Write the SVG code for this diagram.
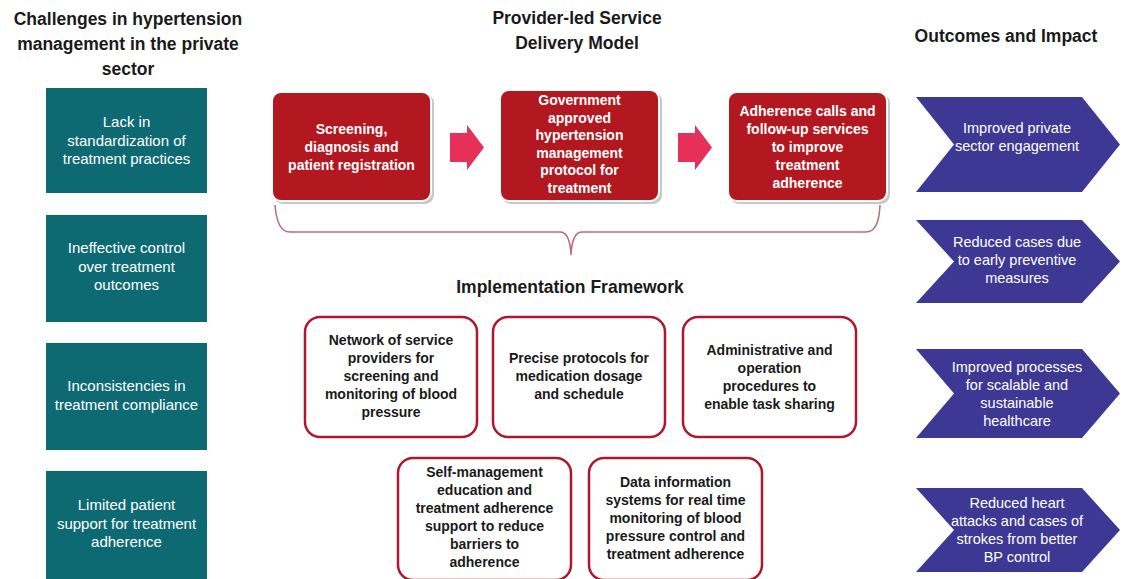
<svg xmlns="http://www.w3.org/2000/svg" width="1126" height="579" viewBox="0 0 1126 579">
<defs>
<style>
.title{font-family:"Liberation Sans",Arial,sans-serif;font-weight:bold;font-size:17.5px;fill:#1a1a1a;text-anchor:middle}
.teal{fill:#0e6a72}
.tt{font-family:"Liberation Sans",Arial,sans-serif;font-size:15px;fill:#ffffff;text-anchor:middle}
.red{fill:#b3171f;stroke:#ffffff;stroke-width:2}
.shadow{fill:#c8c8c8}
.rt{font-family:"Liberation Sans",Arial,sans-serif;font-weight:bold;font-size:14px;fill:#ffffff;text-anchor:middle}
.imp{fill:#ffffff;stroke:#ad1730;stroke-width:2.5}
.it{font-family:"Liberation Sans",Arial,sans-serif;font-weight:bold;font-size:14px;fill:#1a1a1a;text-anchor:middle}
.chev{fill:#3d3893}
.ct{font-family:"Liberation Sans",Arial,sans-serif;font-size:14.5px;fill:#ffffff;text-anchor:middle}
.arr{fill:#e6305a}
.brace{fill:none;stroke:#b86a78;stroke-width:1.5}
</style>
</defs>
<rect width="1126" height="579" fill="#ffffff"/>

<g id="titles">
<text class="title" x="128" y="25">Challenges in hypertension</text>
<text class="title" x="128" y="50">management in the private</text>
<text class="title" x="128" y="75">sector</text>
<text class="title" x="577" y="24">Provider-led Service</text>
<text class="title" x="577" y="49">Delivery Model</text>
<text class="title" x="1006" y="42">Outcomes and Impact</text>
<text class="title" x="570" y="293">Implementation Framework</text>
</g>

<g id="challenge1"><rect class="teal" x="46" y="88" width="161" height="105"/>
<text class="tt" x="126.5" y="127">Lack in</text><text class="tt" x="126.5" y="145.5">standardization of</text><text class="tt" x="126.5" y="164">treatment practices</text></g>
<g id="challenge2"><rect class="teal" x="46" y="215" width="161" height="107"/>
<text class="tt" x="126.5" y="253">Ineffective control</text><text class="tt" x="126.5" y="271.5">over treatment</text><text class="tt" x="126.5" y="290">outcomes</text></g>
<g id="challenge3"><rect class="teal" x="46" y="343" width="161" height="107"/>
<text class="tt" x="126.5" y="391">Inconsistencies in</text><text class="tt" x="126.5" y="410">treatment compliance</text></g>
<g id="challenge4"><rect class="teal" x="46" y="471" width="161" height="110"/>
<text class="tt" x="126.5" y="510">Limited patient</text><text class="tt" x="126.5" y="528.5">support for treatment</text><text class="tt" x="126.5" y="547">adherence</text></g>

<g id="step1"><rect class="shadow" x="274" y="94" width="160" height="110" rx="9"/><rect class="red" x="272" y="92" width="159" height="109" rx="9"/>
<text class="rt" x="351.5" y="134">Screening,</text><text class="rt" x="351.5" y="152">diagnosis and</text><text class="rt" x="351.5" y="170">patient registration</text></g>
<g id="step2"><rect class="shadow" x="502" y="92" width="160" height="112" rx="9"/><rect class="red" x="500" y="90" width="159" height="111" rx="9"/>
<text class="rt" x="579.5" y="105">Government</text><text class="rt" x="579.5" y="122.5">approved</text><text class="rt" x="579.5" y="140">hypertension</text><text class="rt" x="579.5" y="157.5">management</text><text class="rt" x="579.5" y="175">protocol for</text><text class="rt" x="579.5" y="192.5">treatment</text></g>
<g id="step3"><rect class="shadow" x="730" y="94" width="160" height="110" rx="9"/><rect class="red" x="728" y="92" width="159" height="109" rx="9"/>
<text class="rt" x="807.5" y="116">Adherence calls and</text><text class="rt" x="807.5" y="134">follow-up services</text><text class="rt" x="807.5" y="152">to improve</text><text class="rt" x="807.5" y="170">treatment</text><text class="rt" x="807.5" y="188">adherence</text></g>

<g id="connectors">
<polygon class="arr" points="450,133 467,133 467,125 484,147.5 467,170 467,162 450,162"/>
<polygon class="arr" points="678,133 695,133 695,125 712,147.5 695,170 695,162 678,162"/>
<path class="brace" d="M275,205 Q277,232 290,232 L560,232 Q570,232 571,255 Q572,232 582,232 L866,232 Q879,232 880,205"/>
</g>

<g id="impl1"><rect class="imp" x="305" y="317" width="172" height="120" rx="15"/>
<text class="it" x="391" y="345">Network of service</text><text class="it" x="391" y="363">providers for</text><text class="it" x="391" y="381">screening and</text><text class="it" x="391" y="399">monitoring of blood</text><text class="it" x="391" y="417">pressure</text></g>
<g id="impl2"><rect class="imp" x="493" y="317" width="172" height="120" rx="15"/>
<text class="it" x="579" y="363">Precise protocols for</text><text class="it" x="579" y="381">medication dosage</text><text class="it" x="579" y="399">and schedule</text></g>
<g id="impl3"><rect class="imp" x="683" y="317" width="173" height="120" rx="15"/>
<text class="it" x="769.5" y="355">Administrative and</text><text class="it" x="769.5" y="373">operation</text><text class="it" x="769.5" y="391">procedures to</text><text class="it" x="769.5" y="409">enable task sharing</text></g>
<g id="impl4"><rect class="imp" x="398" y="458" width="173" height="122" rx="15"/>
<text class="it" x="484.5" y="477">Self-management</text><text class="it" x="484.5" y="495">education and</text><text class="it" x="484.5" y="513">treatment adherence</text><text class="it" x="484.5" y="531">support to reduce</text><text class="it" x="484.5" y="549">barriers to</text><text class="it" x="484.5" y="567">adherence</text></g>
<g id="impl5"><rect class="imp" x="589" y="458" width="173" height="122" rx="15"/>
<text class="it" x="675.5" y="487">Data information</text><text class="it" x="675.5" y="505">systems for real time</text><text class="it" x="675.5" y="523">monitoring of blood</text><text class="it" x="675.5" y="541">pressure control and</text><text class="it" x="675.5" y="559">treatment adherence</text></g>

<g id="outcome1"><polygon class="chev" points="916,97 1082,97 1120,144.5 1082,192 916,192 954,144.5"/>
<text class="ct" x="1017" y="133">Improved private</text><text class="ct" x="1017" y="151">sector engagement</text></g>
<g id="outcome2"><polygon class="chev" points="916,220 1082,220 1120,261.5 1082,303 916,303 954,261.5"/>
<text class="ct" x="1017" y="247">Reduced cases due</text><text class="ct" x="1017" y="265">to early preventive</text><text class="ct" x="1017" y="283">measures</text></g>
<g id="outcome3"><polygon class="chev" points="916,349 1082,349 1120,393.5 1082,438 916,438 954,393.5"/>
<text class="ct" x="1017" y="372">Improved processes</text><text class="ct" x="1017" y="390">for scalable and</text><text class="ct" x="1017" y="408">sustainable</text><text class="ct" x="1017" y="426">healthcare</text></g>
<g id="outcome4"><polygon class="chev" points="916,488 1082,488 1120,530 1082,572 916,572 954,530"/>
<text class="ct" x="1017" y="508">Reduced heart</text><text class="ct" x="1017" y="526">attacks and cases of</text><text class="ct" x="1017" y="544">strokes from better</text><text class="ct" x="1017" y="562">BP control</text></g>
</svg>
